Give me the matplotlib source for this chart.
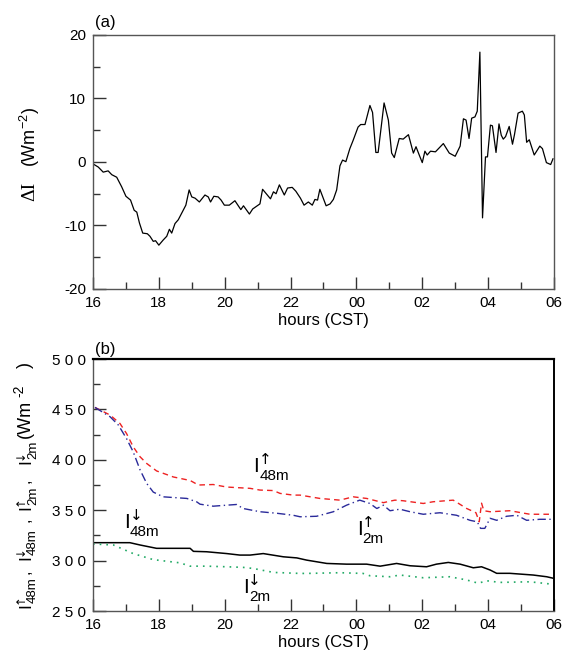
import numpy as np
import matplotlib
matplotlib.use("Agg")
import matplotlib.pyplot as plt
from matplotlib.ticker import MultipleLocator, FixedLocator, FixedFormatter
from matplotlib.transforms import IdentityTransform

plt.rcParams['font.family'] = ['Liberation Sans', 'DejaVu Sans']
plt.rcParams['mathtext.fontset'] = 'custom'
plt.rcParams['mathtext.rm'] = 'Liberation Sans'
plt.rcParams['mathtext.it'] = 'Liberation Sans'
plt.rcParams['axes.unicode_minus'] = False

# panel (a): difference of net longwave, hours since 16 CST (30 = 06 next day)
a_hours = [16.0, 16.16, 16.31, 16.46, 16.57, 16.72, 16.87, 17.0, 17.14, 17.25, 17.33, 17.41,
           17.51, 17.65, 17.73, 17.83, 17.9, 18.0, 18.13, 18.24, 18.32, 18.39, 18.49, 18.59,
           18.72, 18.82, 18.92, 19.0, 19.1, 19.23, 19.4, 19.5, 19.57, 19.67, 19.8, 19.89,
           19.99, 20.14, 20.31, 20.49, 20.57, 20.75, 20.85, 21.07, 21.15, 21.39, 21.48, 21.56,
           21.66, 21.81, 21.91, 22.05, 22.16, 22.3, 22.41, 22.54, 22.66, 22.74, 22.82, 22.89,
           23.08, 23.2, 23.3, 23.4, 23.5, 23.58, 23.68, 23.8, 23.9, 24.05, 24.13, 24.26,
           24.41, 24.49, 24.59, 24.66, 24.84, 24.97, 25.07, 25.15, 25.3, 25.42, 25.58, 25.73,
           25.81, 25.9, 26.0, 26.08, 26.15, 26.25, 26.4, 26.64, 26.82, 27.0, 27.15, 27.25,
           27.33, 27.42, 27.5, 27.6, 27.67, 27.75, 27.83, 27.92, 27.98, 28.07, 28.13, 28.24,
           28.33, 28.4, 28.46, 28.53, 28.64, 28.74, 28.8, 28.91, 29.04, 29.1, 29.17, 29.25,
           29.4, 29.57, 29.65, 29.77, 29.9, 29.97]
a_delta = [-0.3, -0.8, -1.6, -1.4, -2.0, -2.4, -3.9, -5.4, -6.0, -7.6, -7.9, -9.6,
           -11.2, -11.3, -11.7, -12.5, -12.4, -13.1, -12.3, -11.7, -10.6, -11.2, -9.7, -9.1,
           -7.8, -6.8, -4.4, -5.5, -5.7, -6.3, -5.2, -5.5, -6.3, -5.4, -5.5, -6.0,
           -6.8, -6.8, -6.1, -7.5, -6.9, -8.2, -7.4, -6.6, -4.3, -5.8, -4.7, -5.0,
           -3.6, -5.2, -4.1, -4.0, -4.6, -5.7, -6.8, -6.3, -6.8, -5.9, -6.0, -4.3,
           -6.9, -6.6, -5.9, -4.4, -0.6, 0.3, 0.05, 2.1, 3.4, 5.5, 5.9, 5.9,
           8.9, 7.8, 1.5, 1.5, 9.3, 6.6, 1.4, 0.7, 3.7, 3.6, 4.3, 1.4,
           2.4, 1.2, -0.1, 1.7, 1.1, 1.7, 1.6, 2.9, 1.4, 0.9, 2.5, 6.8,
           6.6, 3.7, 6.9, 7.1, 8.0, 17.3, -8.8, 0.8, 0.8, 5.8, 5.7, 1.5,
           6.0, 4.2, 3.6, 4.0, 5.6, 2.8, 4.3, 7.7, 8.0, 7.4, 3.1, 3.5,
           1.1, 2.5, 2.1, -0.1, -0.4, 0.5]

# panel (b): longwave fluxes
up48_h = [16.06, 16.52, 16.82, 17.02, 17.22, 17.43, 17.63, 17.93, 18.44, 18.95, 19.2, 19.65,
          20.06, 20.77, 21.07, 21.48, 21.68, 22.08, 22.29, 22.89, 23.5, 23.9, 24.31, 24.82,
          25.02, 25.17, 25.42, 26.03, 26.33, 26.94, 27.35, 27.63, 27.73, 27.8, 27.87, 28.06,
          28.66, 29.27, 29.98]
up48_v = [452, 444.4, 436, 426, 413, 403, 396.4, 389, 383, 379.5, 375, 375.5,
          373, 371.7, 370, 369.5, 366.7, 365, 365, 361.7, 360, 363.3, 361.7, 357.5,
          359, 360, 359.4, 356.7, 358.4, 360, 351.7, 347.5, 338.6, 357, 349.5, 348.5,
          349.5, 346, 346]

up2_h = [16.06, 16.52, 16.77, 17.02, 17.22, 17.43, 17.63, 17.83, 18.13, 18.85, 19.15, 19.25,
         19.65, 20.06, 20.36, 20.56, 21.07, 21.58, 22.08, 22.29, 22.79, 23.3, 23.7, 24.1,
         24.41, 24.62, 24.82, 25.02, 25.32, 25.63, 26.03, 26.54, 27.04, 27.45, 27.67, 27.77,
         27.9, 28.06, 28.26, 28.56, 28.87, 29.17, 29.57, 29.98]
up2_v = [452, 442.7, 434.5, 421, 408, 390, 376.6, 368, 363.3, 361.7, 358.3, 356,
         354, 355, 355.7, 351.7, 348.5, 347, 345, 343.5, 344, 348.5, 355, 360,
         356.7, 351.7, 355, 349.5, 351, 348.5, 346, 347.5, 345, 340, 338.5, 332,
         332, 342, 340, 344, 345, 340, 341, 341]

dn48_h = [16.0, 16.5, 17.12, 17.43, 17.93, 18.74, 18.95, 19.05, 19.45, 20.06, 20.46, 20.77,
          21.17, 21.78, 22.19, 22.49, 23.1, 23.7, 24.31, 24.72, 25.22, 25.63, 26.13, 26.43,
          26.79, 27.15, 27.55, 27.8, 28.06, 28.26, 28.66, 29.37, 29.78, 29.98]
dn48_v = [317.8, 317.8, 317.8, 315.5, 312.2, 312.2, 312.2, 309.2, 308.8, 307, 305.5, 305.5,
          307, 303.8, 302.7, 300.5, 297.2, 296.5, 296.5, 294.5, 297.2, 294.9, 293.9, 296.5,
          298.2, 296.5, 292.9, 293.9, 290.7, 287.4, 287.4, 285.7, 284, 282.5]

dn2_h = [16.0, 16.62, 17.22, 17.83, 18.64, 18.95, 19.45, 20.06, 20.56, 20.87, 21.48, 22.29,
         22.49, 23.5, 24.2, 24.41, 25.02, 25.32, 26.03, 26.84, 27.35, 27.7, 27.96, 28.36,
         29.27, 29.98]
dn2_v = [316.5, 315.5, 307, 301, 297.8, 294.5, 294.5, 293.9, 293.3, 292.2, 288.3, 287.3,
         287.3, 288, 287.3, 285, 284, 285.7, 283, 284, 280.8, 277.6, 280, 278.4,
         279, 276.5]

hour_ticks = [16, 18, 20, 22, 24, 26, 28, 30]
hour_labels = ['16', '18', '20', '22', '00', '02', '04', '06']
b_yticks = [250, 300, 350, 400, 450, 500]
b_ylabels = ['2 5 0', '3 0 0', '3 5 0', '4 0 0', '4 5 0', '5 0 0']

# curve labels in panel (b): (hour, flux, arrow, height)
curve_labels = [(20.87, 388, '\u2191', '48m'),
                (16.94, 332, '\u2193', '48m'),
                (24.01, 325, '\u2191', '2m'),
                (20.55, 268, '\u2193', '2m')]

fig = plt.figure(figsize=(5.73, 6.59), dpi=100)
ax1 = fig.add_axes([0.1623, 0.5615, 0.8045, 0.3854])
ax2 = fig.add_axes([0.1623, 0.0728, 0.8045, 0.3824])


def style_axis(ax):
    ax.set_xlim(16, 30)
    ax.xaxis.set_major_locator(FixedLocator(hour_ticks))
    ax.xaxis.set_major_formatter(FixedFormatter(hour_labels))
    ax.xaxis.set_minor_locator(MultipleLocator(1))
    ax.tick_params(which='both', direction='in', top=False, right=False, labelsize=11,
                   color='#333333', width=1)
    ax.tick_params(which='major', length=9, pad=5)
    ax.tick_params(which='minor', length=5)
    for s in ax.spines.values():
        s.set_linewidth(1.0)
        s.set_color('#555555')
    ax.set_xlabel('hours (CST)', fontsize=12, labelpad=2)


def put(X, Y, u, v, s, size, rot, family=None):
    # u along the reading direction, v towards the top of the glyphs (pixels)
    if rot == 0:
        x, y = X + u, Y + v
    else:
        x, y = X - v, Y + u
    kw = {'family': family} if family else {}
    return fig.text(x, y, s, fontsize=size, rotation=rot, rotation_mode='anchor',
                    ha='left', va='baseline', transform=IdentityTransform(), **kw)


def flux_label(X, Y, arrow, sub, rot, s_i, s_a, s_s, a_du, a_dv, s_du, s_dv):
    put(X, Y, 0, 0, 'I', s_i, rot)
    put(X, Y, a_du, a_dv, arrow, s_a, rot, family='DejaVu Sans')
    put(X, Y, s_du, s_dv, sub, s_s, rot)


ax1.plot(a_hours, a_delta, color='black', lw=0.9)
style_axis(ax1)
ax1.set_ylim(-20, 20)
ax1.yaxis.set_major_locator(MultipleLocator(10))
ax1.yaxis.set_minor_locator(MultipleLocator(5))
ax1.text(-0.137, 0.385, '\u0394I', transform=ax1.transAxes, rotation=90, fontsize=14,
         family='Liberation Serif', ha='center', va='center')
ax1.text(-0.137, 0.60, '(Wm$^{-2}$)', transform=ax1.transAxes, rotation=90, fontsize=13,
         ha='center', va='center')
ax1.text(0.005, 1.02, '(a)', transform=ax1.transAxes, fontsize=12, ha='left', va='bottom')

ax2.plot(up48_h, up48_v, color='#ee2222', lw=1.0, ls=(0, (4, 3)))
ax2.plot(up2_h, up2_v, color='#2a2a9a', lw=1.0, ls=(0, (6, 2.5, 1, 2.5)))
ax2.plot(dn48_h, dn48_v, color='black', lw=1.1)
ax2.plot(dn2_h, dn2_v, color='#22aa66', lw=1.2, ls=(0, (1, 3)))
style_axis(ax2)
ax2.spines['top'].set_color('black')
ax2.spines['top'].set_linewidth(1.6)
ax2.spines['right'].set_color('black')
ax2.spines['right'].set_linewidth(1.4)
ax2.set_ylim(250, 500)
ax2.yaxis.set_major_locator(FixedLocator(b_yticks))
ax2.yaxis.set_major_formatter(FixedFormatter(b_ylabels))
ax2.yaxis.set_minor_locator(MultipleLocator(25))
ax2.text(0.005, 1.01, '(b)', transform=ax2.transAxes, fontsize=12, ha='left', va='bottom')

for h, val, arrow, sub in curve_labels:
    X, Y = ax2.transData.transform((h, val))
    flux_label(X, Y, arrow, sub, 0, 15, 11, 11, 5.5, 8, 6, -8)

# rotated y label of panel (b), built piece by piece (pixels from the bottom)
X0, Y0 = 30, 659 - 608
ylab_groups = [(0, '\u2191', '48m'), (48, '\u2193', '48m'), (98, '\u2191', '2m'), (144, '\u2193', '2m')]
for u, arrow, sub in ylab_groups:
    flux_label(X0, Y0 + u, arrow, sub, 90, 12.5, 8.5, 9.5, 4.5, 6, 5, -6)
for u in (34, 86, 125):
    put(X0, Y0, u, 0, ',', 12, 90)
put(X0, Y0, 170, 0, '(Wm', 13, 90)
put(X0, Y0, 211, 7, '-2', 10, 90)
put(X0, Y0, 240, 0, ')', 13, 90)

fig.savefig('out.png', dpi=100)
